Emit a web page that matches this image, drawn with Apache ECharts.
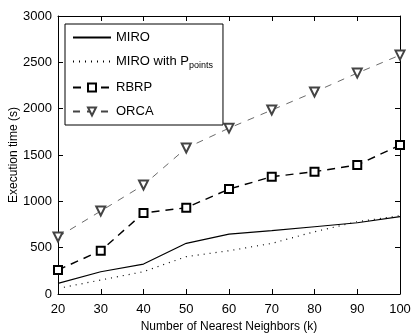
<!DOCTYPE html>
<html><head><meta charset="utf-8">
<script src="https://cdn.jsdelivr.net/npm/echarts@6/dist/echarts.min.js"></script>
<style>html,body{margin:0;padding:0;background:#fff}#c{width:413px;height:335px}</style>
</head><body><div id="c"></div>
<script>
var categories = [20, 30, 40, 50, 60, 70, 80, 90, 100];
var miro = [115, 240, 323, 547, 647, 683, 726, 769, 834];
var miroP = [60, 151, 241, 403, 467, 546, 672, 780, 845];
var rbrp = [259, 467, 874, 931, 1132, 1266, 1320, 1392, 1607];
var orca = [615, 895, 1176, 1575, 1790, 1985, 2180, 2384, 2578];
var yTicks = [0, 500, 1000, 1500, 2000, 2500, 3000];

function pairs(v){ return categories.map(function(c,i){ return [c, v[i]]; }); }
var font = 'Liberation Sans, Arial, sans-serif';
var chart = echarts.init(document.getElementById('c'));
var axisCommon = {
  axisLine: {show: true, onZero: false, lineStyle: {color: '#000', width: 1}},
  axisTick: {show: true, inside: true, length: 5, lineStyle: {color: '#000'}},
  splitLine: {show: false}
};
chart.setOption({
  animation: false,
  grid: {left: 58, right: 13, top: 16, bottom: 41, outerBoundsMode: 'none', containLabel: false},
  xAxis: [
    Object.assign({type: 'value', min: 20, max: 100, interval: 10,
      name: 'Number of Nearest Neighbors (k)', nameLocation: 'middle', nameGap: 27, nameMoveOverlap: false,
      nameTextStyle: {fontFamily: font, fontSize: 12, color: '#000'},
      axisLabel: {fontFamily: font, fontSize: 13, color: '#000', margin: 9}}, axisCommon),
    Object.assign({type: 'value', min: 20, max: 100, interval: 10, position: 'top',
      axisLabel: {show: false}}, axisCommon)
  ],
  yAxis: [
    Object.assign({type: 'value', min: 0, max: 3000, interval: 500,
      name: 'Execution time (s)', nameLocation: 'middle', nameGap: 38, nameMoveOverlap: false,
      nameTextStyle: {fontFamily: font, fontSize: 12, color: '#000'},
      axisLabel: {fontFamily: font, fontSize: 13, color: '#000', margin: 6,
        formatter: function(v){ return yTicks.indexOf(v) >= 0 ? String(v) : ''; }}}, axisCommon),
    Object.assign({type: 'value', min: 0, max: 3000, interval: 500, position: 'right',
      axisLabel: {show: false}}, axisCommon)
  ],
  legend: {
    orient: 'vertical', left: 65, top: 24, width: 153, height: 100,
    padding: [7, 10, 7, 7], itemGap: 11, itemWidth: 38, itemHeight: 10,
    borderColor: '#000', borderWidth: 1, backgroundColor: '#fff',
    textStyle: {fontFamily: font, fontSize: 13, color: '#000',
      rich: {sub: {fontFamily: font, fontSize: 9, verticalAlign: 'bottom', padding: [8, 0, 0, 0]}}},
    formatter: function(n){ return n === 'MIRO with P' ? 'MIRO with P{sub|points}' : n; },
    data: [
      {name: 'MIRO', itemStyle: {opacity: 0}},
      {name: 'MIRO with P', itemStyle: {opacity: 0}},
      'RBRP', 'ORCA']
  },
  series: [
    {name: 'MIRO', type: 'line', data: pairs(miro), symbol: 'none',
      lineStyle: {color: '#000', width: 1.2, type: 'solid'}, itemStyle: {color: '#000'}},
    {name: 'MIRO with P', type: 'line', data: pairs(miroP), symbol: 'none',
      lineStyle: {color: '#000', width: 1.2, type: [1, 5]}, itemStyle: {color: '#000'}},
    {name: 'RBRP', type: 'line', data: pairs(rbrp), symbol: 'emptyRect', symbolSize: 8,
      lineStyle: {color: '#000', width: 1.4, type: [8, 6]},
      itemStyle: {color: '#000', borderWidth: 1.2}},
    {name: 'ORCA', type: 'line', data: pairs(orca), symbol: 'emptyTriangle', symbolRotate: 180, symbolSize: 9,
      lineStyle: {color: '#444', width: 0.8, type: [7, 7]},
      itemStyle: {color: '#444', borderWidth: 0.8}}
  ]
});
</script></body></html>
